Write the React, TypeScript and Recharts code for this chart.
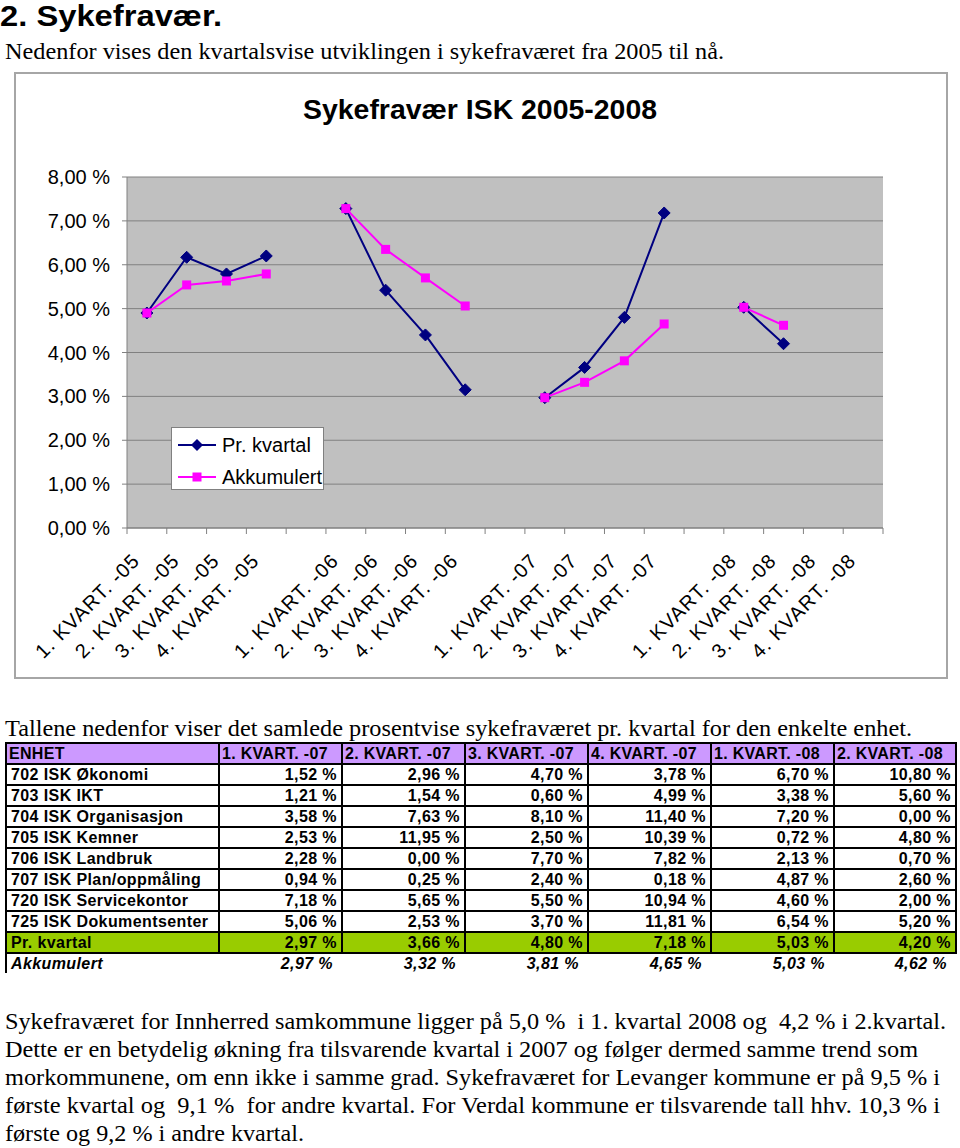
import React from 'react';
import { LineChart, Line, XAxis, YAxis, CartesianGrid } from 'recharts';

// chart categories (blank slots separate the years)
const CATEGORIES = [
  '1. KVART. -05', '2. KVART. -05', '3. KVART. -05', '4. KVART. -05', '',
  '1. KVART. -06', '2. KVART. -06', '3. KVART. -06', '4. KVART. -06', '',
  '1. KVART. -07', '2. KVART. -07', '3. KVART. -07', '4. KVART. -07', '',
  '1. KVART. -08', '2. KVART. -08', '3. KVART. -08', '4. KVART. -08',
];
const PR_KVARTAL = [
  4.9, 6.17, 5.79, 6.2, null,
  7.28, 5.42, 4.4, 3.15, null,
  2.97, 3.66, 4.8, 7.18, null,
  5.03, 4.2, null, null,
];
const AKKUMULERT = [
  4.9, 5.54, 5.63, 5.79, null,
  7.28, 6.35, 5.7, 5.06, null,
  2.97, 3.32, 3.81, 4.65, null,
  5.03, 4.62, null, null,
];
const Y_TICKS = [0, 1, 2, 3, 4, 5, 6, 7, 8];
const SERIES_NAMES = ['Pr. kvartal', 'Akkumulert'];

// table
const TABLE_HEAD = ['ENHET', '1. KVART. -07', '2. KVART. -07', '3. KVART. -07', '4. KVART. -07', '1. KVART. -08', '2. KVART. -08'];
const UNITS = [
  '702 ISK Økonomi', '703 ISK IKT', '704 ISK Organisasjon', '705 ISK Kemner',
  '706 ISK Landbruk', '707 ISK Plan/oppmåling', '720 ISK Servicekontor', '725 ISK Dokumentsenter',
];
const Q1_07 = [1.52, 1.21, 3.58, 2.53, 2.28, 0.94, 7.18, 5.06];
const Q2_07 = [2.96, 1.54, 7.63, 11.95, 0.0, 0.25, 5.65, 2.53];
const Q3_07 = [4.7, 0.6, 8.1, 2.5, 7.7, 2.4, 5.5, 3.7];
const Q4_07 = [3.78, 4.99, 11.4, 10.39, 7.82, 0.18, 10.94, 11.81];
const Q1_08 = [6.7, 3.38, 7.2, 0.72, 2.13, 4.87, 4.6, 6.54];
const Q2_08 = [10.8, 5.6, 0.0, 4.8, 0.7, 2.6, 2.0, 5.2];
const TABLE_PR = [2.97, 3.66, 4.8, 7.18, 5.03, 4.2];
const TABLE_AKK = [2.97, 3.32, 3.81, 4.65, 5.03, 4.62];

const TEXT_LINES = [
  'Sykefraværet for Innherred samkommune ligger på 5,0 %  i 1. kvartal 2008 og  4,2 % i 2.kvartal.',
  'Dette er en betydelig økning fra tilsvarende kvartal i 2007 og følger dermed samme trend som',
  'morkommunene, om enn ikke i samme grad. Sykefraværet for Levanger kommune er på 9,5 % i',
  'første kvartal og  9,1 %  for andre kvartal. For Verdal kommune er tilsvarende tall hhv. 10,3 % i',
  'første og 9,2 % i andre kvartal.',
];
const TEXT_WIDTHS = [941, 913, 935, 935, 299];

const SANS = '"Liberation Sans", Arial, sans-serif';
const SERIF = '"Liberation Serif", "Times New Roman", serif';

const CHART_W = 930;
const CHART_H = 603;
const PLOT_LEFT = 111;
const PLOT_RIGHT = 867;
const PLOT_TOP = 103;
const PLOT_BOTTOM = 454;
const BAND = (PLOT_RIGHT - PLOT_LEFT) / CATEGORIES.length;

const NAVY = '#000080';
const MAGENTA = '#FF00FF';
const GRID = '#808080';

const chartData = CATEGORIES.map((c, i) => ({
  key: 'c' + i,
  label: c,
  pr: PR_KVARTAL[i],
  akk: AKKUMULERT[i],
}));

const pct = (v: number) => v.toFixed(2).replace('.', ',') + ' %';

const XTick = (props: any) => {
  const { x, index } = props;
  const label = CATEGORIES[index];
  const ax = x - 6;
  const ay = PLOT_BOTTOM + 34;
  return (
    <g>
      {index === 0 ? (
        <line x1={x - BAND / 2} x2={x - BAND / 2} y1={PLOT_BOTTOM} y2={PLOT_BOTTOM + 6} stroke={GRID} />
      ) : null}
      <line x1={x + BAND / 2} x2={x + BAND / 2} y1={PLOT_BOTTOM} y2={PLOT_BOTTOM + 6} stroke={GRID} />
      {label ? (
        <text
          x={ax}
          y={ay}
          transform={`rotate(-45 ${ax} ${ay})`}
          textAnchor="end"
          fontSize={20}
          fontFamily={SANS}
          letterSpacing={1}
          fill="#000"
        >
          {label}
        </text>
      ) : null}
    </g>
  );
};

const Diamond = (props: any) => {
  const { cx, cy, value, index } = props;
  if (value == null || cx == null || cy == null) return <g key={'d' + index} />;
  const r = 6;
  return (
    <polygon
      key={'d' + index}
      points={`${cx},${cy - r} ${cx + r},${cy} ${cx},${cy + r} ${cx - r},${cy}`}
      fill={NAVY}
      stroke={NAVY}
    />
  );
};

const Square = (props: any) => {
  const { cx, cy, value, index } = props;
  if (value == null || cx == null || cy == null) return <g key={'s' + index} />;
  const s = 9;
  return <rect key={'s' + index} x={cx - s / 2} y={cy - s / 2} width={s} height={s} fill={MAGENTA} />;
};

// legend drawn as an overlay so it does not shrink the plot area
const LegendBox = () => (
  <div
    style={{
      position: 'absolute',
      left: 155,
      top: 353,
      width: 151,
      height: 61,
      background: '#fff',
      border: '1px solid #808080',
    }}
  >
    <svg width={151} height={61} style={{ position: 'absolute', left: 0, top: 0 }}>
      <line x1={6} x2={44} y1={17} y2={17} stroke={NAVY} strokeWidth={2} />
      <polygon points="25,11 31,17 25,23 19,17" fill={NAVY} />
      <text x={50} y={24} fontSize={20} fontFamily={SANS} fill="#000">{SERIES_NAMES[0]}</text>
      <line x1={6} x2={44} y1={49} y2={49} stroke={MAGENTA} strokeWidth={2} />
      <rect x={20.5} y={44.5} width={9} height={9} fill={MAGENTA} />
      <text x={50} y={56} fontSize={20} fontFamily={SANS} fill="#000">{SERIES_NAMES[1]}</text>
    </svg>
  </div>
);

const cellBase: React.CSSProperties = {
  border: '2px solid #000',
  padding: '0 4px',
  height: 19,
  lineHeight: '19px',
  whiteSpace: 'nowrap',
  letterSpacing: 0.4,
};

const DataTable = () => {
  const cols = [Q1_07, Q2_07, Q3_07, Q4_07, Q1_08, Q2_08];
  return (
    <table
      style={{
        position: 'absolute',
        left: 5,
        top: 742,
        width: 950,
        borderCollapse: 'collapse',
        fontFamily: SANS,
        fontWeight: 'bold',
        fontSize: 16,
        tableLayout: 'fixed',
      }}
    >
      <colgroup>
        <col style={{ width: 213 }} />
        {cols.map((_, i) => (
          <col key={i} style={{ width: i === 5 ? 122 : 123 }} />
        ))}
      </colgroup>
      <tbody>
        <tr>
          {TABLE_HEAD.map((h) => (
            <td key={h} style={{ ...cellBase, background: '#CC99FF', textAlign: 'left', padding: '0 2px', letterSpacing: 0.3 }}>
              {h}
            </td>
          ))}
        </tr>
        {UNITS.map((u, r) => (
          <tr key={u}>
            <td style={{ ...cellBase, borderTop: r === 7 ? 'none' : cellBase.border }}>{u}</td>
            {cols.map((c, i) => (
              <td key={i} style={{ ...cellBase, textAlign: 'right' }}>
                {pct(c[r])}
              </td>
            ))}
          </tr>
        ))}
        <tr>
          <td style={{ ...cellBase, background: '#99CC00' }}>Pr. kvartal</td>
          {TABLE_PR.map((v, i) => (
            <td key={i} style={{ ...cellBase, background: '#99CC00', textAlign: 'right' }}>
              {pct(v)}
            </td>
          ))}
        </tr>
        <tr>
          <td style={{ ...cellBase, border: 'none', borderLeft: '2px solid #000', fontStyle: 'italic' }}>
            Akkumulert
          </td>
          {TABLE_AKK.map((v, i) => (
            <td key={i} style={{ ...cellBase, border: 'none', textAlign: 'right', fontStyle: 'italic', paddingRight: 9 }}>
              {pct(v)}
            </td>
          ))}
        </tr>
      </tbody>
    </table>
  );
};

const App = () => {
  return (
    <div style={{ position: 'absolute', left: 0, top: 0, width: 960, height: 1148, background: '#fff', overflow: 'hidden' }}>
      {/* chart frame */}
      <div
        style={{
          position: 'absolute',
          left: 14,
          top: 72,
          width: 934,
          height: 607,
          boxSizing: 'border-box',
          border: '2px solid #A6A6A6',
          background: '#fff',
        }}
      >
        <LineChart
          width={CHART_W}
          height={CHART_H}
          data={chartData}
          margin={{ top: PLOT_TOP, right: CHART_W - PLOT_RIGHT, bottom: 0, left: 0 }}
        >
          <CartesianGrid fill="#C0C0C0" stroke={GRID} vertical={false} />
          <XAxis
            dataKey="key"
            height={CHART_H - PLOT_BOTTOM}
            interval={0}
            padding={{ left: BAND / 2, right: BAND / 2 }}
            tickLine={false}
            axisLine={{ stroke: GRID, strokeWidth: 1 }}
            tick={<XTick />}
          />
          <YAxis
            domain={[0, 8]}
            ticks={Y_TICKS}
            width={PLOT_LEFT}
            tickSize={5}
            tickMargin={12}
            tickLine={{ stroke: GRID }}
            axisLine={{ stroke: GRID }}
            tickFormatter={(v: number) => pct(v)}
            tick={{ fontSize: 20, fill: '#000', fontFamily: SANS }}
          />
          <YAxis yAxisId="r" orientation="right" domain={[0, 8]} width={0} tick={false} tickLine={false} axisLine={{ stroke: GRID, strokeWidth: 2 }} />
          <Line
            type="linear"
            dataKey="pr"
            name={SERIES_NAMES[0]}
            stroke={NAVY}
            strokeWidth={2}
            dot={(p: any) => <Diamond {...p} />}
            activeDot={false}
            connectNulls={false}
            isAnimationActive={false}
          />
          <Line
            type="linear"
            dataKey="akk"
            name={SERIES_NAMES[1]}
            stroke={MAGENTA}
            strokeWidth={2}
            dot={(p: any) => <Square {...p} />}
            activeDot={false}
            connectNulls={false}
            isAnimationActive={false}
          />
        </LineChart>
        <LegendBox />
      </div>

      <DataTable />

      {/* page text */}
      <svg width={960} height={1148} style={{ position: 'absolute', left: 0, top: 0, pointerEvents: 'none' }}>
        <text x={0} y={26} fontFamily={SANS} fontWeight="bold" fontSize={29} textLength={222} lengthAdjust="spacingAndGlyphs">
          2. Sykefravær.
        </text>
        <text x={5} y={59} fontFamily={SERIF} fontSize={24} textLength={719} lengthAdjust="spacingAndGlyphs">
          Nedenfor vises den kvartalsvise utviklingen i sykefraværet fra 2005 til nå.
        </text>
        <text x={480} y={119} textAnchor="middle" fontFamily={SANS} fontWeight="bold" fontSize={27} textLength={354} lengthAdjust="spacingAndGlyphs">
          Sykefravær ISK 2005-2008
        </text>
        <text x={5} y={736} fontFamily={SERIF} fontSize={24} textLength={907} lengthAdjust="spacingAndGlyphs">
          Tallene nedenfor viser det samlede prosentvise sykefraværet pr. kvartal for den enkelte enhet.
        </text>
        {TEXT_LINES.map((t, i) => (
          <text
            key={i}
            x={5}
            y={1029 + i * 28}
            fontFamily={SERIF}
            fontSize={24}
            textLength={TEXT_WIDTHS[i]}
            lengthAdjust="spacingAndGlyphs"
            style={{ whiteSpace: 'pre' }}
          >
            {t}
          </text>
        ))}
      </svg>
    </div>
  );
};

export default App;
